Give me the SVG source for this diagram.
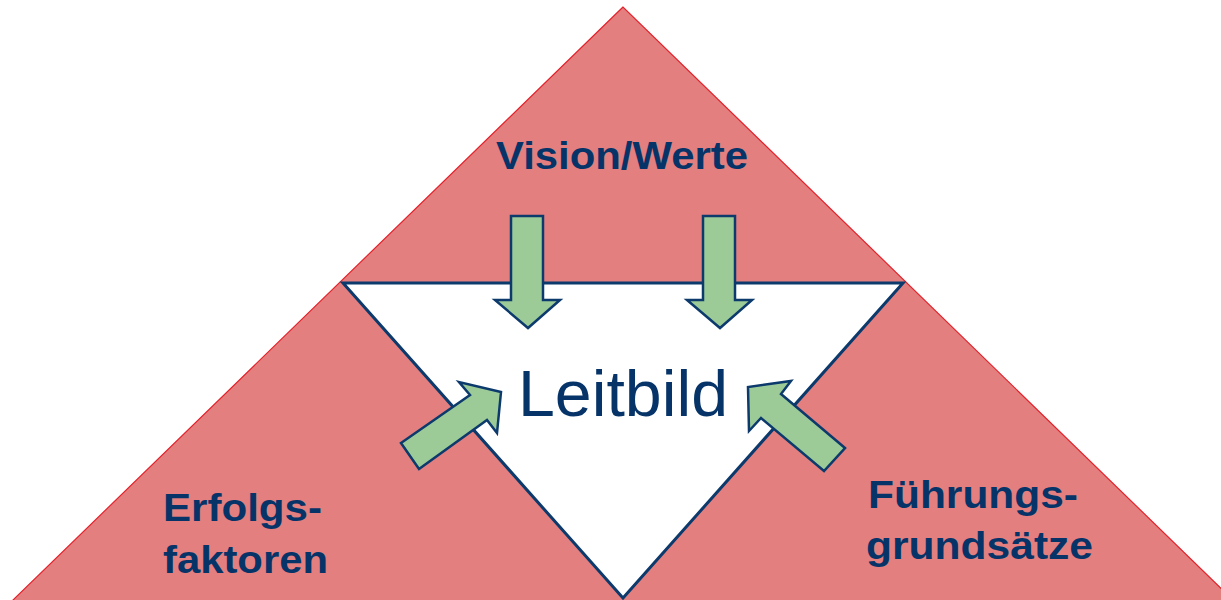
<svg xmlns="http://www.w3.org/2000/svg" width="1221" height="600" viewBox="0 0 1221 600">
<style>
.bg{fill:#e37f7f;stroke:#e2222b;stroke-width:1.2}
.inner{fill:#ffffff;stroke:#0c3a6c;stroke-width:3;stroke-linejoin:miter}
.arrow{fill:#9ccb98;stroke:#0c3a6c;stroke-width:2.5;stroke-linejoin:miter}
.lbl{font-family:"Liberation Sans",Arial,sans-serif;font-weight:bold;font-size:39px;fill:#063468}
.main{font-family:"Liberation Sans",Arial,sans-serif;font-size:64px;fill:#063468}
</style>
<rect width="1221" height="600" fill="#ffffff"/>
<g id="pyramid">
<polygon class="bg" points="623,7 12,601 1234,601"/>
</g>
<g id="leitbild">
<polygon class="inner" points="343,283 903,283 623,598"/>
<text class="main" x="623" y="416" text-anchor="middle" textLength="210" lengthAdjust="spacingAndGlyphs">Leitbild</text>
</g>
<g id="vision">
<text class="lbl" x="622" y="169" text-anchor="middle" textLength="252" lengthAdjust="spacingAndGlyphs">Vision/Werte</text>
</g>
<g id="erfolgsfaktoren">
<text class="lbl" x="163" y="521" textLength="159" lengthAdjust="spacingAndGlyphs">Erfolgs-</text>
<text class="lbl" x="163" y="573" textLength="165" lengthAdjust="spacingAndGlyphs">faktoren</text>
</g>
<g id="fuehrungsgrundsaetze">
<text class="lbl" x="868" y="508" textLength="210" lengthAdjust="spacingAndGlyphs">Führungs-</text>
<text class="lbl" x="866" y="559" textLength="227" lengthAdjust="spacingAndGlyphs">grundsätze</text>
</g>
<g id="connectors">
<polygon class="arrow" points="511,216 543,216 543,300 560,300 528,328 495,300 511,300"/>
<polygon class="arrow" points="703,216 735,216 735,300 752,300 720,328 687,300 703,300"/>
<polygon class="arrow" points="401,443 470,395 459,382 501,392 497,433 487,420 419,469"/>
<polygon class="arrow" points="845,448 781,394 791,381 748,387 749,431 761,418 824,471"/>
</g>
</svg>
